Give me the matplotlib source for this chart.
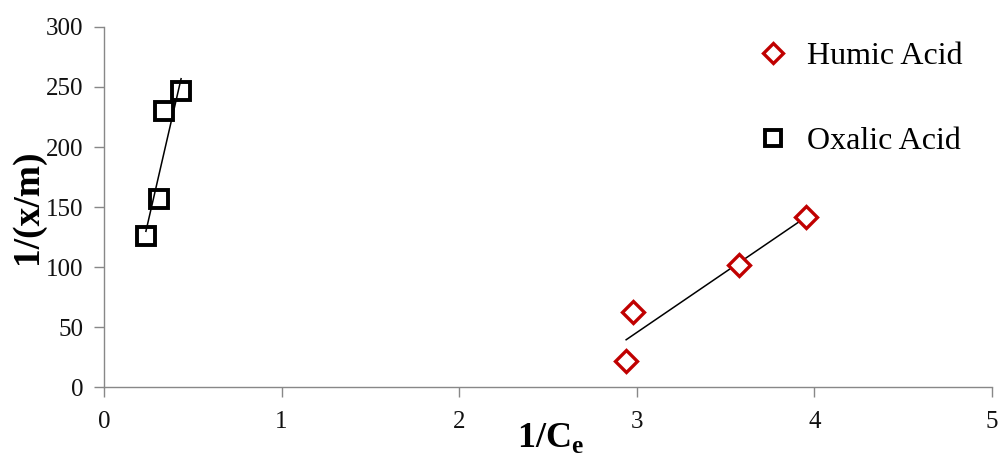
import numpy as np
import matplotlib
matplotlib.use("Agg")
import matplotlib.pyplot as plt

# Values
humic_x = [2.94, 2.98, 3.575, 3.95]
humic_y = [21.7, 62.5, 101.7, 141.7]
oxalic_x = [0.236, 0.31, 0.338, 0.434]
oxalic_y = [125.8, 156.7, 230.0, 246.7]

x_ticks = [0, 1, 2, 3, 4, 5]
y_ticks = [0, 50, 100, 150, 200, 250, 300]

plt.rcParams["font.family"] = ["Liberation Serif", "DejaVu Serif"]
plt.rcParams["mathtext.fontset"] = "custom"
plt.rcParams["mathtext.rm"] = "Liberation Serif"
plt.rcParams["mathtext.bf"] = "Liberation Serif:bold"

fig = plt.figure(figsize=(10.01, 4.63), dpi=100)
ax = fig.add_axes([104 / 1001, 1 - 387 / 463, 888 / 1001, 360 / 463])

red = "#C00000"
ax.plot(humic_x, humic_y, linestyle="none", marker="D", markersize=11,
        markerfacecolor="white", markeredgecolor=red, markeredgewidth=2.4,
        label="Humic Acid", zorder=3)
ax.plot(oxalic_x, oxalic_y, linestyle="none", marker="s", markersize=13,
        markerfacecolor="none", markeredgecolor="black", markeredgewidth=2.8,
        label="Oxalic Acid", zorder=3)

# linear trendlines
for xs, ys in [(humic_x, humic_y), (oxalic_x, oxalic_y)]:
    k, b = np.polyfit(xs, ys, 1)
    xl = np.array([min(xs), max(xs)])
    ax.plot(xl, k * xl + b, color="black", linewidth=1.1, zorder=2)

ax.set_xlim(0, 5)
ax.set_ylim(0, 300)
ax.set_xticks(x_ticks)
ax.set_yticks(y_ticks)
ax.tick_params(axis="both", labelsize=18, color="#888888", length=7, width=1,
               labelcolor="#111111")
ax.tick_params(axis="y", pad=8)
ax.tick_params(axis="x", pad=10)

for side in ["top", "right"]:
    ax.spines[side].set_visible(False)
for side in ["left", "bottom"]:
    ax.spines[side].set_color("#888888")
    ax.spines[side].set_linewidth(1.0)

ax.set_ylabel("1/(x/m)", fontsize=27, fontweight="bold")
ax.yaxis.set_label_coords(-0.066, 0.5)
ax.set_xlabel("1/C$_\\mathbf{e}$", fontsize=26, fontweight="bold")
ax.xaxis.set_label_coords(0.503, -0.095)

leg = ax.legend(loc="upper left", bbox_to_anchor=(0.703, 1.04), frameon=False,
                fontsize=23, markerscale=0.9, labelspacing=1.76,
                handletextpad=0.55, handlelength=1.0)

plt.savefig("out.png", dpi=100)
plt.close()
